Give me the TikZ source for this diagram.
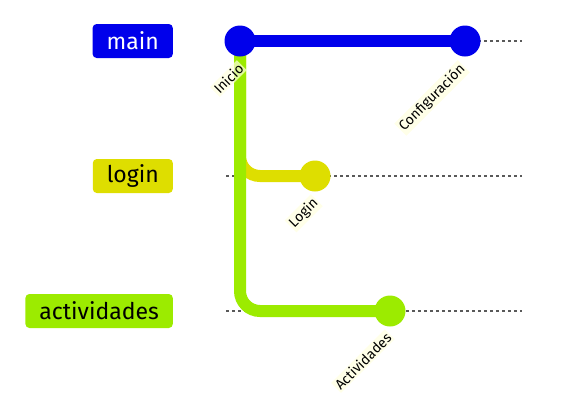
\documentclass[tikz,border=0pt]{standalone}
\usepackage[RGB]{xcolor}
\usepackage{fontspec}
\setmainfont{Fira Sans}
\usetikzlibrary{backgrounds}
\definecolor{M}{RGB}{0,0,235}
\definecolor{L}{RGB}{222,222,0}
\definecolor{A}{RGB}{156,235,0}
\definecolor{T}{RGB}{255,255,222}
\newcommand{\drawthick}{\draw[line width=12pt]}
\newcommand{\drawrow}[2]{
    \coordinate (#1L) at (226,#2);
    \coordinate (#1R) at (522,#2);
    \draw[gray!70!black, line width=1.2pt, dash pattern=on 3pt off 3pt] (#1L)--(#1R);
}
\tikzset{
  commit/.style={circle, fill=#1, minimum size=31pt, inner sep=0pt},
  branch/.style={fill=#1, rounded corners=4pt, anchor=east, minimum height=34pt, inner xsep=14pt, font=\fontsize{23}{23}\selectfont},
  tag/.style={fill=T, fill opacity=0.7, text opacity=1, anchor=east, rotate=45, inner sep=1.5pt, font=\fontsize{14}{14}\selectfont}
}

\begin{document}
\begin{tikzpicture}[x=1pt,y=-1pt]
\useasboundingbox (0,0) rectangle (583,405);
\node[branch=M, text=white] (bmain) at (173,41) {main};
\node[branch=L] (blogin) at (173,176) {login};
\node[branch=A] (bact) at (173,311) {actividades};
\node[commit=M] (inicio) at (240,41) {};
\node[commit=M] (config) at (465,41) {};
\node[commit=L] (login) at (315,176) {};
\node[commit=A] (activ) at (390,311) {};
\begin{scope}[on background layer]
    \drawrow{main}{41}\drawrow{login}{176}\drawrow{act}{311}
    \drawthick[M] (inicio.center)--(config.center);
    \drawthick[L, rounded corners=20pt] (inicio.center) |- (login.center);
    \drawthick[A, rounded corners=20pt] (inicio.center) |- (activ.center);
\end{scope}
\node[tag] (tinicio) at ([shift={(2,24)}]inicio.center) {Inicio};
\node[tag] (tconfig) at ([shift={(-1,25)}]config.center) {Configuración};
\node[tag] (tlogin) at ([shift={(2,24)}]login.center) {Login};
\node[tag] (tactiv) at ([shift={(0,23)}]activ.center) {Actividades};
\end{tikzpicture}
\end{document}
